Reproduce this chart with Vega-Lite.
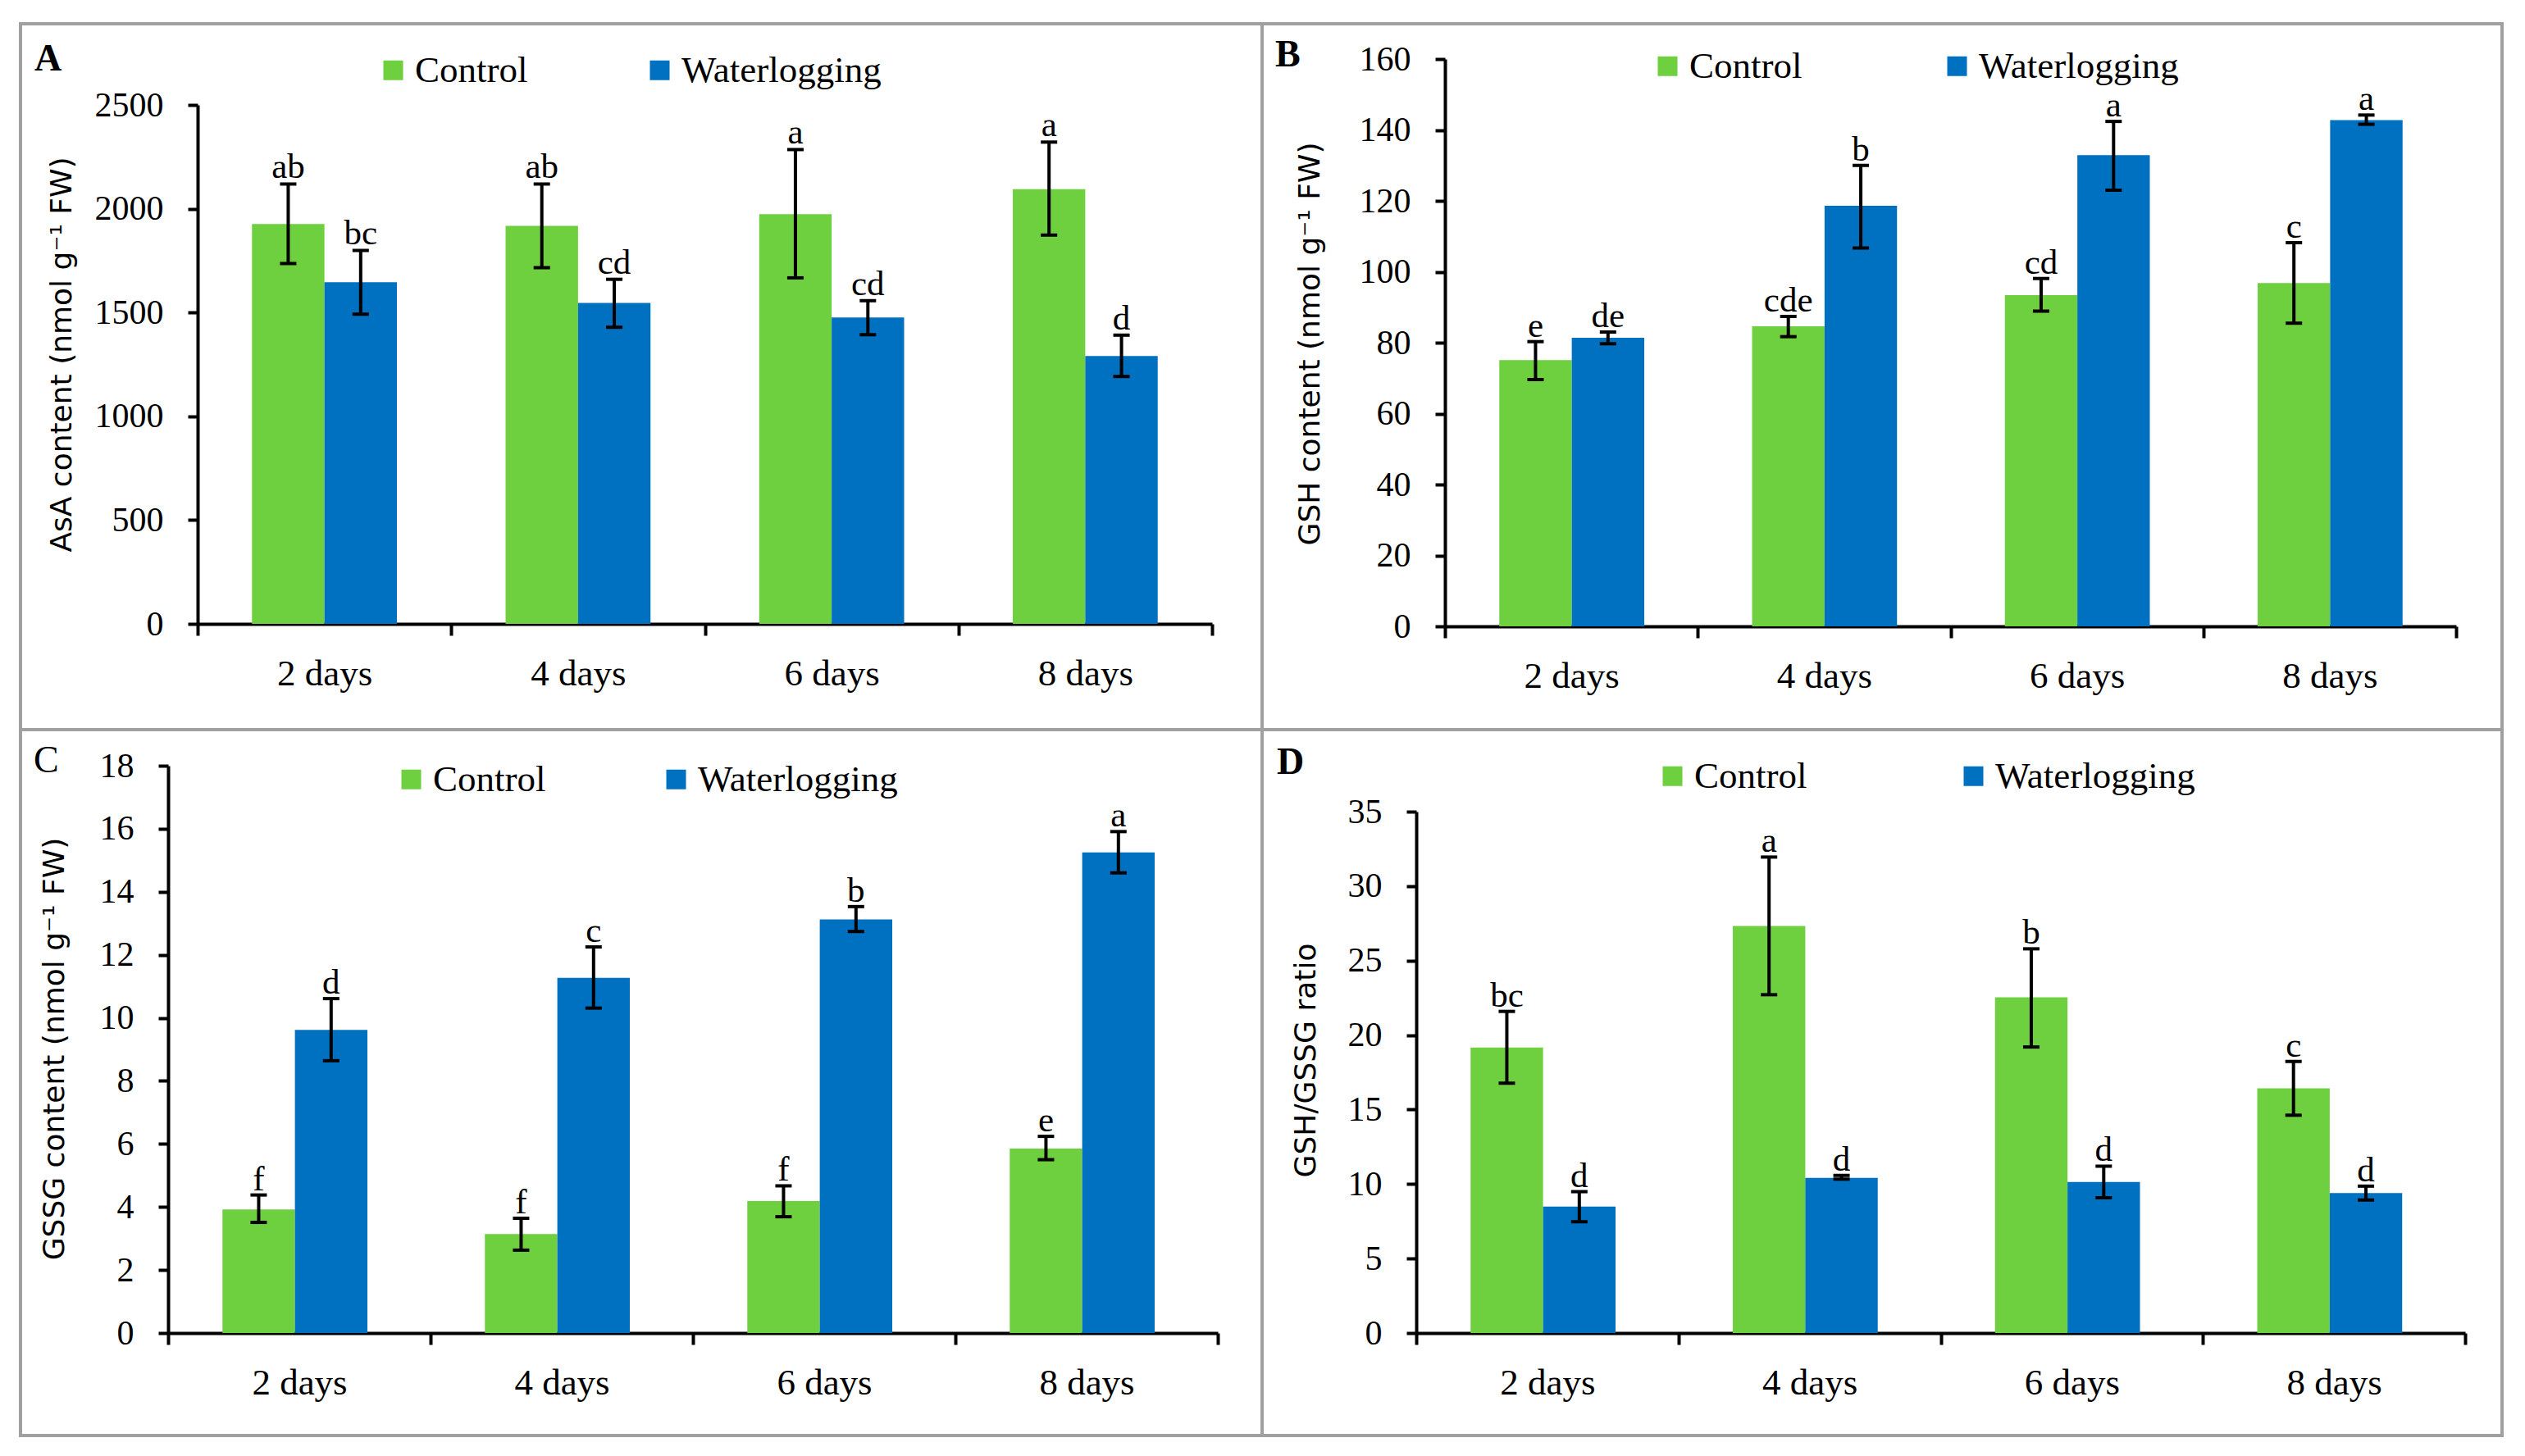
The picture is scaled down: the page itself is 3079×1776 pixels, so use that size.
{
  "$schema": "https://vega.github.io/schema/vega-lite/v6.json",
  "background": "white",
  "padding": {"left": 23, "top": 27, "right": 30, "bottom": 27},
  "datasets": {
    "asa": [
      {"day": "2 days", "group": "Control", "value": 1926, "lo": 1736, "hi": 2119, "label": "ab"},
      {"day": "2 days", "group": "Waterlogging", "value": 1646, "lo": 1492, "hi": 1799, "label": "bc"},
      {"day": "4 days", "group": "Control", "value": 1917, "lo": 1716, "hi": 2119, "label": "ab"},
      {"day": "4 days", "group": "Waterlogging", "value": 1546, "lo": 1429, "hi": 1660, "label": "cd"},
      {"day": "6 days", "group": "Control", "value": 1974, "lo": 1667, "hi": 2285, "label": "a"},
      {"day": "6 days", "group": "Waterlogging", "value": 1476, "lo": 1393, "hi": 1557, "label": "cd"},
      {"day": "8 days", "group": "Control", "value": 2094, "lo": 1873, "hi": 2321, "label": "a"},
      {"day": "8 days", "group": "Waterlogging", "value": 1290, "lo": 1192, "hi": 1391, "label": "d"}
    ],
    "gsh": [
      {"day": "2 days", "group": "Control", "value": 75.1, "lo": 69.6, "hi": 80.3, "label": "e"},
      {"day": "2 days", "group": "Waterlogging", "value": 81.4, "lo": 79.7, "hi": 83.0, "label": "de"},
      {"day": "4 days", "group": "Control", "value": 84.6, "lo": 81.7, "hi": 87.4, "label": "cde"},
      {"day": "4 days", "group": "Waterlogging", "value": 118.6, "lo": 106.7, "hi": 130.0, "label": "b"},
      {"day": "6 days", "group": "Control", "value": 93.4, "lo": 88.9, "hi": 98.1, "label": "cd"},
      {"day": "6 days", "group": "Waterlogging", "value": 132.9, "lo": 123.0, "hi": 142.4, "label": "a"},
      {"day": "8 days", "group": "Control", "value": 96.8, "lo": 85.5, "hi": 108.2, "label": "c"},
      {"day": "8 days", "group": "Waterlogging", "value": 142.8, "lo": 141.6, "hi": 144.2, "label": "a"}
    ],
    "gssg": [
      {"day": "2 days", "group": "Control", "value": 3.92, "lo": 3.51, "hi": 4.38, "label": "f"},
      {"day": "2 days", "group": "Waterlogging", "value": 9.62, "lo": 8.64, "hi": 10.61, "label": "d"},
      {"day": "4 days", "group": "Control", "value": 3.14, "lo": 2.63, "hi": 3.64, "label": "f"},
      {"day": "4 days", "group": "Waterlogging", "value": 11.27, "lo": 10.31, "hi": 12.25, "label": "c"},
      {"day": "6 days", "group": "Control", "value": 4.19, "lo": 3.69, "hi": 4.67, "label": "f"},
      {"day": "6 days", "group": "Waterlogging", "value": 13.12, "lo": 12.74, "hi": 13.53, "label": "b"},
      {"day": "8 days", "group": "Control", "value": 5.85, "lo": 5.50, "hi": 6.24, "label": "e"},
      {"day": "8 days", "group": "Waterlogging", "value": 15.25, "lo": 14.60, "hi": 15.91, "label": "a"}
    ],
    "ratio": [
      {"day": "2 days", "group": "Control", "value": 19.17, "lo": 16.77, "hi": 21.59, "label": "bc"},
      {"day": "2 days", "group": "Waterlogging", "value": 8.49, "lo": 7.47, "hi": 9.49, "label": "d"},
      {"day": "4 days", "group": "Control", "value": 27.32, "lo": 22.71, "hi": 31.95, "label": "a"},
      {"day": "4 days", "group": "Waterlogging", "value": 10.42, "lo": 10.33, "hi": 10.58, "label": "d"},
      {"day": "6 days", "group": "Control", "value": 22.53, "lo": 19.2, "hi": 25.79, "label": "b"},
      {"day": "6 days", "group": "Waterlogging", "value": 10.14, "lo": 9.08, "hi": 11.2, "label": "d"},
      {"day": "8 days", "group": "Control", "value": 16.43, "lo": 14.62, "hi": 18.23, "label": "c"},
      {"day": "8 days", "group": "Waterlogging", "value": 9.40, "lo": 8.93, "hi": 9.86, "label": "d"}
    ]
  },
  "columns": 2,
  "spacing": 0,
  "bounds": "flush",
  "resolve": {"scale": {"color": "independent"}, "legend": {"color": "independent"}},
  "concat": [
    {
      "width": 1514, "height": 861,
      "data": {"name": "asa"},
      "title": {"text": "A", "anchor": "start", "frame": "group", "font": "Liberation Serif", "fontSize": 46, "fontWeight": "bold", "color": "black", "dx": 17, "offset": -67},
      "encoding": {
        "x": {"field": "day", "type": "nominal", "sort": ["2 days", "4 days", "6 days", "8 days"], "scale": {"range": [216, 1453], "paddingInner": 0, "paddingOuter": 0}, "axis": {"title": null, "offset": -129, "labelFont": "Liberation Serif", "labelFontSize": 45, "labelColor": "black"}},
        "xOffset": {"field": "group", "type": "nominal", "sort": ["Control", "Waterlogging"], "scale": {"paddingInner": 0, "paddingOuter": 0.75}}
      },
      "layer": [
        {"mark": {"type": "bar"},
         "encoding": {
           "y": {"field": "value", "type": "quantitative", "scale": {"domain": [0, 2500], "range": [732, 99], "nice": false}, "axis": {"title": "AsA content (nmol g⁻¹ FW)", "values": [0, 500, 1000, 1500, 2000, 2500], "format": "d", "offset": -216, "titleX": -166, "titleY": 403, "labelFont": "Liberation Serif", "labelFontSize": 42, "labelColor": "black", "titleFont": "DejaVu Sans", "titleFontSize": 36}},
           "color": {"field": "group", "type": "nominal", "scale": {"domain": ["Control", "Waterlogging"], "range": ["#6ECF3F", "#0070C0"]}, "legend": {"orient": "none", "legendX": 432, "legendY": 34, "columnPadding": 138, "labelOffset": 4, "labelFont": "Liberation Serif", "labelFontSize": 45, "labelColor": "black"}}
         }},
        {"mark": {"type": "rule", "strokeWidth": 4, "color": "black"}, "encoding": {"y": {"field": "lo", "type": "quantitative"}, "y2": {"field": "hi"}}},
        {"mark": {"type": "tick", "size": 20, "thickness": 4, "color": "black", "opacity": 1, "orient": "horizontal"}, "encoding": {"y": {"field": "hi", "type": "quantitative"}}},
        {"mark": {"type": "tick", "size": 20, "thickness": 4, "color": "black", "opacity": 1, "orient": "horizontal"}, "encoding": {"y": {"field": "lo", "type": "quantitative"}}},
        {"mark": {"type": "text", "font": "Liberation Serif", "fontSize": 43, "baseline": "alphabetic", "dy": -7, "color": "black"}, "encoding": {"y": {"field": "hi", "type": "quantitative"}, "text": {"field": "label"}}}
      ]
    },
    {
      "width": 1512, "height": 861,
      "data": {"name": "gsh"},
      "title": {"text": "B", "anchor": "start", "frame": "group", "font": "Liberation Serif", "fontSize": 46, "fontWeight": "bold", "color": "black", "dx": 16, "offset": -62},
      "encoding": {
        "x": {"field": "day", "type": "nominal", "sort": ["2 days", "4 days", "6 days", "8 days"], "scale": {"range": [223, 1456], "paddingInner": 0, "paddingOuter": 0}, "axis": {"title": null, "offset": -126, "labelFont": "Liberation Serif", "labelFontSize": 45, "labelColor": "black"}},
        "xOffset": {"field": "group", "type": "nominal", "sort": ["Control", "Waterlogging"], "scale": {"paddingInner": 0, "paddingOuter": 0.75}}
      },
      "layer": [
        {"mark": {"type": "bar"},
         "encoding": {
           "y": {"field": "value", "type": "quantitative", "scale": {"domain": [0, 160], "range": [735, 43], "nice": false}, "axis": {"title": "GSH content (nmol g⁻¹ FW)", "values": [0, 20, 40, 60, 80, 100, 120, 140, 160], "format": "d", "offset": -223, "titleX": -165, "titleY": 390, "labelFont": "Liberation Serif", "labelFontSize": 42, "labelColor": "black", "titleFont": "DejaVu Sans", "titleFontSize": 36}},
           "color": {"field": "group", "type": "nominal", "scale": {"domain": ["Control", "Waterlogging"], "range": ["#6ECF3F", "#0070C0"]}, "legend": {"orient": "none", "legendX": 472, "legendY": 29, "columnPadding": 166, "labelOffset": 4, "labelFont": "Liberation Serif", "labelFontSize": 45, "labelColor": "black"}}
         }},
        {"mark": {"type": "rule", "strokeWidth": 4, "color": "black"}, "encoding": {"y": {"field": "lo", "type": "quantitative"}, "y2": {"field": "hi"}}},
        {"mark": {"type": "tick", "size": 20, "thickness": 4, "color": "black", "opacity": 1, "orient": "horizontal"}, "encoding": {"y": {"field": "hi", "type": "quantitative"}}},
        {"mark": {"type": "tick", "size": 20, "thickness": 4, "color": "black", "opacity": 1, "orient": "horizontal"}, "encoding": {"y": {"field": "lo", "type": "quantitative"}}},
        {"mark": {"type": "text", "font": "Liberation Serif", "fontSize": 43, "baseline": "alphabetic", "dy": -6, "color": "black"}, "encoding": {"y": {"field": "hi", "type": "quantitative"}, "text": {"field": "label"}}}
      ]
    },
    {
      "width": 1514, "height": 861,
      "data": {"name": "gssg"},
      "title": {"text": "C", "anchor": "start", "frame": "group", "font": "Liberation Serif", "fontSize": 46, "fontWeight": "normal", "color": "black", "dx": 16, "offset": -62},
      "encoding": {
        "x": {"field": "day", "type": "nominal", "sort": ["2 days", "4 days", "6 days", "8 days"], "scale": {"range": [180, 1460], "paddingInner": 0, "paddingOuter": 0}, "axis": {"title": null, "offset": -125, "labelFont": "Liberation Serif", "labelFontSize": 45, "labelColor": "black"}},
        "xOffset": {"field": "group", "type": "nominal", "sort": ["Control", "Waterlogging"], "scale": {"paddingInner": 0, "paddingOuter": 0.75}}
      },
      "layer": [
        {"mark": {"type": "bar"},
         "encoding": {
           "y": {"field": "value", "type": "quantitative", "scale": {"domain": [0, 18], "range": [736, 44], "nice": false}, "axis": {"title": "GSSG content (nmol g⁻¹ FW)", "values": [0, 2, 4, 6, 8, 10, 12, 14, 16, 18], "format": "d", "offset": -180, "titleX": -139, "titleY": 389, "labelFont": "Liberation Serif", "labelFontSize": 42, "labelColor": "black", "titleFont": "DejaVu Sans", "titleFontSize": 36}},
           "color": {"field": "group", "type": "nominal", "scale": {"domain": ["Control", "Waterlogging"], "range": ["#6ECF3F", "#0070C0"]}, "legend": {"orient": "none", "legendX": 454, "legendY": 38, "columnPadding": 136, "labelOffset": 4, "labelFont": "Liberation Serif", "labelFontSize": 45, "labelColor": "black"}}
         }},
        {"mark": {"type": "rule", "strokeWidth": 4, "color": "black"}, "encoding": {"y": {"field": "lo", "type": "quantitative"}, "y2": {"field": "hi"}}},
        {"mark": {"type": "tick", "size": 20, "thickness": 4, "color": "black", "opacity": 1, "orient": "horizontal"}, "encoding": {"y": {"field": "hi", "type": "quantitative"}}},
        {"mark": {"type": "tick", "size": 20, "thickness": 4, "color": "black", "opacity": 1, "orient": "horizontal"}, "encoding": {"y": {"field": "lo", "type": "quantitative"}}},
        {"mark": {"type": "text", "font": "Liberation Serif", "fontSize": 43, "baseline": "alphabetic", "dy": -6, "color": "black"}, "encoding": {"y": {"field": "hi", "type": "quantitative"}, "text": {"field": "label"}}}
      ]
    },
    {
      "width": 1512, "height": 861,
      "data": {"name": "ratio"},
      "title": {"text": "D", "anchor": "start", "frame": "group", "font": "Liberation Serif", "fontSize": 46, "fontWeight": "bold", "color": "black", "dx": 18, "offset": -64},
      "encoding": {
        "x": {"field": "day", "type": "nominal", "sort": ["2 days", "4 days", "6 days", "8 days"], "scale": {"range": [188, 1467], "paddingInner": 0, "paddingOuter": 0}, "axis": {"title": null, "offset": -125, "labelFont": "Liberation Serif", "labelFontSize": 45, "labelColor": "black"}},
        "xOffset": {"field": "group", "type": "nominal", "sort": ["Control", "Waterlogging"], "scale": {"paddingInner": 0, "paddingOuter": 0.75}}
      },
      "layer": [
        {"mark": {"type": "bar"},
         "encoding": {
           "y": {"field": "value", "type": "quantitative", "scale": {"domain": [0, 35], "range": [736, 100], "nice": false}, "axis": {"title": "GSH/GSSG ratio", "values": [0, 5, 10, 15, 20, 25, 30, 35], "format": "d", "offset": -188, "titleX": -135, "titleY": 403, "labelFont": "Liberation Serif", "labelFontSize": 42, "labelColor": "black", "titleFont": "DejaVu Sans", "titleFontSize": 36}},
           "color": {"field": "group", "type": "nominal", "scale": {"domain": ["Control", "Waterlogging"], "range": ["#6ECF3F", "#0070C0"]}, "legend": {"orient": "none", "legendX": 478, "legendY": 34, "columnPadding": 180, "labelOffset": 4, "labelFont": "Liberation Serif", "labelFontSize": 45, "labelColor": "black"}}
         }},
        {"mark": {"type": "rule", "strokeWidth": 4, "color": "black"}, "encoding": {"y": {"field": "lo", "type": "quantitative"}, "y2": {"field": "hi"}}},
        {"mark": {"type": "tick", "size": 20, "thickness": 4, "color": "black", "opacity": 1, "orient": "horizontal"}, "encoding": {"y": {"field": "hi", "type": "quantitative"}}},
        {"mark": {"type": "tick", "size": 20, "thickness": 4, "color": "black", "opacity": 1, "orient": "horizontal"}, "encoding": {"y": {"field": "lo", "type": "quantitative"}}},
        {"mark": {"type": "text", "font": "Liberation Serif", "fontSize": 43, "baseline": "alphabetic", "dy": -6, "color": "black"}, "encoding": {"y": {"field": "hi", "type": "quantitative"}, "text": {"field": "label"}}}
      ]
    }
  ],
  "config": {
    "font": "Liberation Serif",
    "view": {"stroke": "#a0a0a0", "strokeWidth": 4},
    "axis": {"domainColor": "black", "domainWidth": 4, "tickColor": "black", "tickWidth": 4, "labelFont": "Liberation Serif", "labelColor": "black", "grid": false},
    "axisX": {"tickBand": "extent", "tickSize": 14, "labelFontSize": 45, "labelPadding": 24, "labelAngle": 0},
    "axisY": {"tickSize": 12, "labelFontSize": 42, "labelPadding": 30, "titleFont": "DejaVu Sans", "titleFontSize": 36, "titleFontWeight": "normal", "titleColor": "black", "titleAngle": -90, "titleAlign": "center", "titleBaseline": "middle"},
    "legend": {"direction": "horizontal", "title": null, "symbolType": "square", "symbolSize": 576, "symbolStrokeWidth": 0, "symbolOpacity": 1, "labelFont": "Liberation Serif", "labelFontSize": 45, "labelColor": "black", "labelOffset": 4, "labelLimit": 0, "padding": 0},
    "style": {"guide-label": {"font": "Liberation Serif"}, "guide-title": {"font": "DejaVu Sans"}}
  }
}
